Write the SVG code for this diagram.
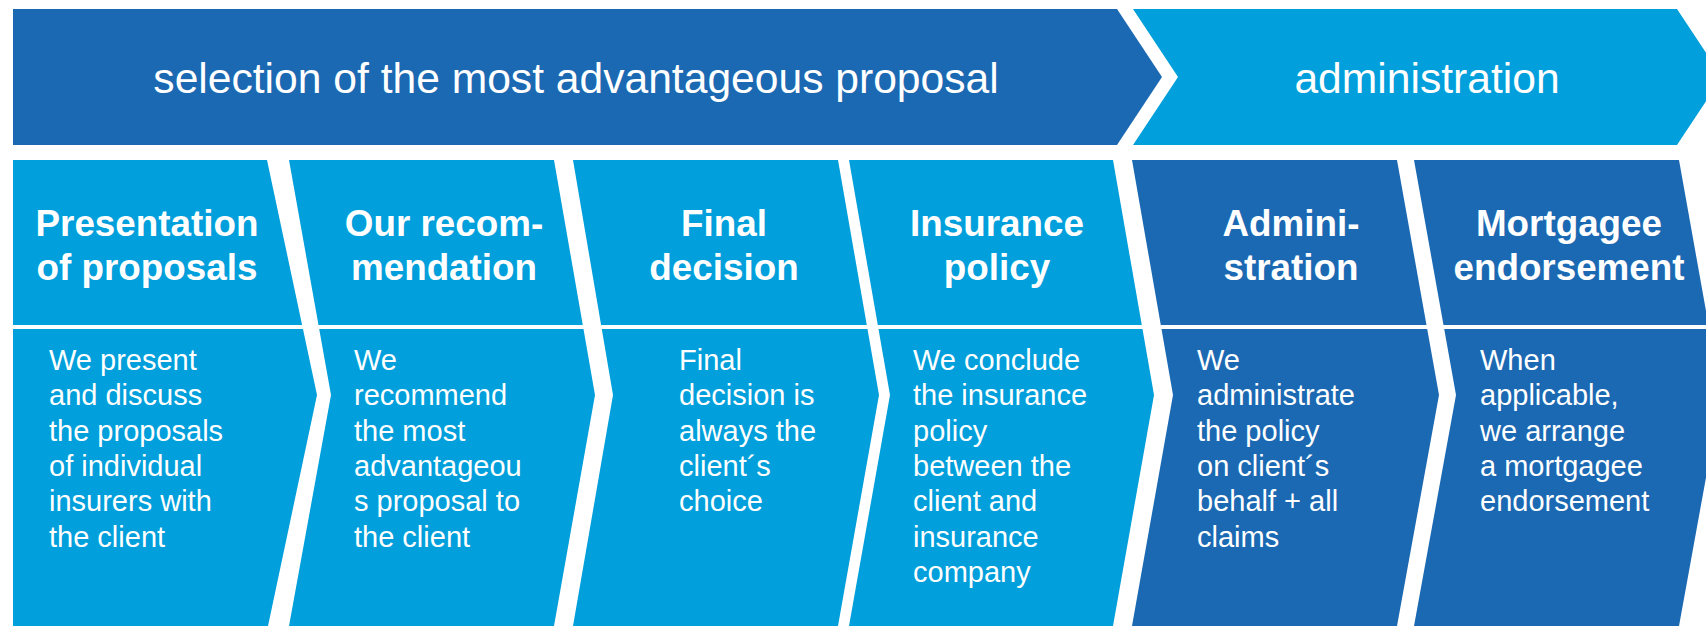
<svg xmlns="http://www.w3.org/2000/svg" width="1706" height="626" viewBox="0 0 1706 626">
<style>
.dark{fill:#1b69b3}
.light{fill:#019fdb}
.band{font-family:"Liberation Sans",Arial,sans-serif;font-size:42.6px;fill:#fff;text-anchor:middle}
.title{font-family:"Liberation Sans",Arial,sans-serif;font-size:36.8px;font-weight:bold;fill:#fff;text-anchor:middle}
.body{font-family:"Liberation Sans",Arial,sans-serif;font-size:29px;fill:#fff}
.sep{fill:#fff}
</style>
<rect width="1706" height="626" fill="#fff"/>
<g id="phase-selection">
<polygon class="dark" points="13,9 1117,9 1162,77 1117,145 13,145"/>
<text class="band" x="576" y="93">selection of the most advantageous proposal</text>
</g>
<g id="phase-administration">
<polygon class="light" points="1133,9 1677,9 1722,77 1677,145 1133,145 1178,77"/>
<text class="band" x="1427" y="93">administration</text>
</g>
<g id="step1">
<polygon class="light" points="13,160 267,160 317,395 268,626 13,626"/>
<rect class="sep" x="13" y="325" width="300" height="4"/>
<text class="title" x="147" y="236">Presentation</text>
<text class="title" x="147" y="280">of proposals</text>
<text class="body" x="49" y="370">We present</text>
<text class="body" x="49" y="405">and discuss</text>
<text class="body" x="49" y="441">the proposals</text>
<text class="body" x="49" y="476">of individual</text>
<text class="body" x="49" y="511">insurers with</text>
<text class="body" x="49" y="547">the client</text>
</g>
<g id="step2">
<polygon class="light" points="289,160 554,160 595,395 554,626 289,626 331,395"/>
<rect class="sep" x="300" y="325" width="290" height="4"/>
<text class="title" x="444" y="236">Our recom-</text>
<text class="title" x="444" y="280">mendation</text>
<text class="body" x="354" y="370">We</text>
<text class="body" x="354" y="405">recommend</text>
<text class="body" x="354" y="441">the most</text>
<text class="body" x="354" y="476">advantageou</text>
<text class="body" x="354" y="511">s proposal to</text>
<text class="body" x="354" y="547">the client</text>
</g>
<g id="step3">
<polygon class="light" points="573,160 838,160 879,395 838,626 573,626 613,395"/>
<rect class="sep" x="585" y="325" width="290" height="4"/>
<text class="title" x="724" y="236">Final</text>
<text class="title" x="724" y="280">decision</text>
<text class="body" x="679" y="370">Final</text>
<text class="body" x="679" y="405">decision is</text>
<text class="body" x="679" y="441">always the</text>
<text class="body" x="679" y="476">client´s</text>
<text class="body" x="679" y="511">choice</text>
</g>
<g id="step4">
<polygon class="light" points="849,160 1113,160 1154,395 1113,626 849,626 890,395"/>
<rect class="sep" x="860" y="325" width="290" height="4"/>
<text class="title" x="997" y="236">Insurance</text>
<text class="title" x="997" y="280">policy</text>
<text class="body" x="913" y="370">We conclude</text>
<text class="body" x="913" y="405">the insurance</text>
<text class="body" x="913" y="441">policy</text>
<text class="body" x="913" y="476">between the</text>
<text class="body" x="913" y="511">client and</text>
<text class="body" x="913" y="547">insurance</text>
<text class="body" x="913" y="582">company</text>
</g>
<g id="step5">
<polygon class="dark" points="1132,160 1397,160 1439,395 1397,626 1132,626 1173,395"/>
<rect class="sep" x="1145" y="325" width="290" height="4"/>
<text class="title" x="1291" y="236">Admini-</text>
<text class="title" x="1291" y="280">stration</text>
<text class="body" x="1197" y="370">We</text>
<text class="body" x="1197" y="405">administrate</text>
<text class="body" x="1197" y="441">the policy</text>
<text class="body" x="1197" y="476">on client´s</text>
<text class="body" x="1197" y="511">behalf + all</text>
<text class="body" x="1197" y="547">claims</text>
</g>
<g id="step6">
<polygon class="dark" points="1414,160 1679,160 1721,395 1679,626 1414,626 1456,395"/>
<rect class="sep" x="1425" y="325" width="290" height="4"/>
<text class="title" x="1569" y="236">Mortgagee</text>
<text class="title" x="1569" y="280">endorsement</text>
<text class="body" x="1480" y="370">When</text>
<text class="body" x="1480" y="405">applicable,</text>
<text class="body" x="1480" y="441">we arrange</text>
<text class="body" x="1480" y="476">a mortgagee</text>
<text class="body" x="1480" y="511">endorsement</text>
</g>
<g id="connectors"></g>
</svg>
